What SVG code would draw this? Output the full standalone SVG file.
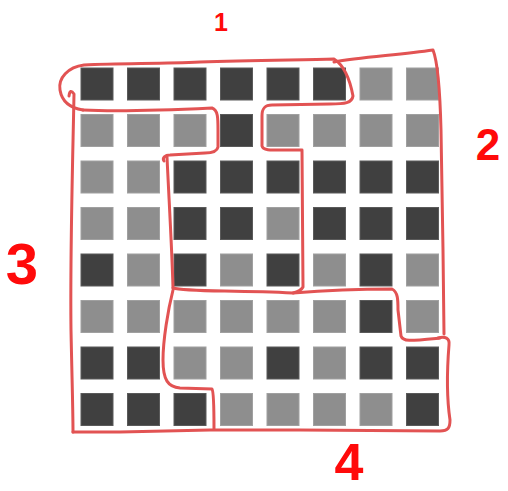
<svg xmlns="http://www.w3.org/2000/svg" width="508" height="491" viewBox="0 0 508 491">
<style>
.d{fill:#404040;stroke:#5a5a5a;stroke-width:1}
.l{fill:#8e8e8e;stroke:#a0a0a0;stroke-width:1}
.ln{fill:none;stroke:#e25353;stroke-width:3;stroke-linecap:round;stroke-linejoin:round}
.lb{font-family:"Liberation Sans",Arial,sans-serif;font-weight:bold;fill:#ff0a0a;text-anchor:middle}
</style>
<rect width="508" height="491" fill="#ffffff"/>
<g id="grid">
<!-- row 0 -->
<rect class="d" x="81" y="68" width="32" height="32"/><rect class="d" x="127.5" y="68" width="32" height="32"/><rect class="d" x="174" y="68" width="32" height="32"/><rect class="d" x="220.5" y="68" width="32" height="32"/><rect class="d" x="267" y="68" width="32" height="32"/><rect class="d" x="313.5" y="68" width="32" height="32"/><rect class="l" x="360" y="68" width="32" height="32"/><rect class="l" x="406.5" y="68" width="32" height="32"/>
<!-- row 1 -->
<rect class="l" x="81" y="114.5" width="32" height="32"/><rect class="l" x="127.5" y="114.5" width="32" height="32"/><rect class="l" x="174" y="114.5" width="32" height="32"/><rect class="d" x="220.5" y="114.5" width="32" height="32"/><rect class="l" x="267" y="114.5" width="32" height="32"/><rect class="l" x="313.5" y="114.5" width="32" height="32"/><rect class="l" x="360" y="114.5" width="32" height="32"/><rect class="l" x="406.5" y="114.5" width="32" height="32"/>
<!-- row 2 -->
<rect class="l" x="81" y="161" width="32" height="32"/><rect class="l" x="127.5" y="161" width="32" height="32"/><rect class="d" x="174" y="161" width="32" height="32"/><rect class="d" x="220.5" y="161" width="32" height="32"/><rect class="d" x="267" y="161" width="32" height="32"/><rect class="d" x="313.5" y="161" width="32" height="32"/><rect class="d" x="360" y="161" width="32" height="32"/><rect class="d" x="406.5" y="161" width="32" height="32"/>
<!-- row 3 -->
<rect class="l" x="81" y="207.5" width="32" height="32"/><rect class="l" x="127.5" y="207.5" width="32" height="32"/><rect class="d" x="174" y="207.5" width="32" height="32"/><rect class="d" x="220.5" y="207.5" width="32" height="32"/><rect class="l" x="267" y="207.5" width="32" height="32"/><rect class="d" x="313.5" y="207.5" width="32" height="32"/><rect class="d" x="360" y="207.5" width="32" height="32"/><rect class="d" x="406.5" y="207.5" width="32" height="32"/>
<!-- row 4 -->
<rect class="d" x="81" y="254" width="32" height="32"/><rect class="l" x="127.5" y="254" width="32" height="32"/><rect class="d" x="174" y="254" width="32" height="32"/><rect class="l" x="220.5" y="254" width="32" height="32"/><rect class="d" x="267" y="254" width="32" height="32"/><rect class="l" x="313.5" y="254" width="32" height="32"/><rect class="d" x="360" y="254" width="32" height="32"/><rect class="l" x="406.5" y="254" width="32" height="32"/>
<!-- row 5 -->
<rect class="l" x="81" y="300.5" width="32" height="32"/><rect class="l" x="127.5" y="300.5" width="32" height="32"/><rect class="l" x="174" y="300.5" width="32" height="32"/><rect class="l" x="220.5" y="300.5" width="32" height="32"/><rect class="l" x="267" y="300.5" width="32" height="32"/><rect class="l" x="313.5" y="300.5" width="32" height="32"/><rect class="d" x="360" y="300.5" width="32" height="32"/><rect class="l" x="406.5" y="300.5" width="32" height="32"/>
<!-- row 6 -->
<rect class="d" x="81" y="347" width="32" height="32"/><rect class="d" x="127.5" y="347" width="32" height="32"/><rect class="l" x="174" y="347" width="32" height="32"/><rect class="l" x="220.5" y="347" width="32" height="32"/><rect class="d" x="267" y="347" width="32" height="32"/><rect class="l" x="313.5" y="347" width="32" height="32"/><rect class="d" x="360" y="347" width="32" height="32"/><rect class="d" x="406.5" y="347" width="32" height="32"/>
<!-- row 7 -->
<rect class="d" x="81" y="393.5" width="32" height="32"/><rect class="d" x="127.5" y="393.5" width="32" height="32"/><rect class="d" x="174" y="393.5" width="32" height="32"/><rect class="l" x="220.5" y="393.5" width="32" height="32"/><rect class="l" x="267" y="393.5" width="32" height="32"/><rect class="l" x="313.5" y="393.5" width="32" height="32"/><rect class="l" x="360" y="393.5" width="32" height="32"/><rect class="d" x="406.5" y="393.5" width="32" height="32"/>
</g>
<g id="outlines">
<path class="ln" d="M 83 110 C 70 108 62 102 60 90 C 58 78 68 67 84 65 C 120 63 160 64 200 62 C 250 60 300 60 334 59 C 345 66 350 80 353 96 C 352 103 345 104 330 104 L 272 105 C 264 105 262 109 262 116 L 262 146 C 263 151 270 150 302 150 L 303 287 C 301 291 297 292 293 293"/>
<path class="ln" d="M 83 110 C 120 112 170 110 212 108 C 218 110 218 118 218 130 L 218 147 C 217 152 212 153 205 153 L 170 155 C 165 155 162 158 164 161"/>
<path class="ln" d="M 167 157 C 169 200 172 250 173 288"/>
<path class="ln" d="M 173 288 C 185 292 230 290 293 293 C 330 290 370 289 392 289 C 398 292 398 300 398 310 L 401 336 C 403 342 410 341 440 338"/>
<path class="ln" d="M 173 290 C 168 310 163 340 163 360 C 163 380 168 387 180 388 L 212 389 C 214 392 214 410 214 429"/>
<path class="ln" d="M 334 62 C 360 57 400 55 433 50 C 437 60 440 90 441 130 L 443 250 L 444 334"/>
<path class="ln" d="M 438 338 C 445 336 450 338 449 345 C 447 370 447 400 450 420 C 450 428 448 431 440 431 L 300 430 L 210 430 L 120 432 L 73 432"/>
<path class="ln" d="M 69 96 Q 70 88 74 94 C 73 150 70 250 71 330 C 72 380 73 410 73 432"/>
</g>
<g id="labels">
<text class="lb" x="221" y="31" font-size="25">1</text>
<text class="lb" x="488" y="160" font-size="44">2</text>
<text class="lb" x="22" y="284" font-size="58">3</text>
<text class="lb" x="349" y="480" font-size="52">4</text>
</g>
</svg>
